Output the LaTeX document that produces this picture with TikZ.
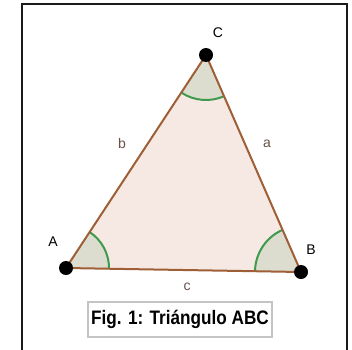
\documentclass[tikz,border=0pt]{standalone}
\usepackage{fontspec}
\setmainfont{Liberation Sans}
\usepackage{xcolor}
\usepackage{tikz}
\usetikzlibrary{angles, positioning, calc}
\definecolor{framedark}{HTML}{1A1A1A}
\definecolor{sidebrown}{HTML}{9E5F36}
\definecolor{trifill}{HTML}{F6E8E2}
\definecolor{anglegreen}{HTML}{3E9A4E}
\definecolor{anglefill}{HTML}{DCDDCF}
\definecolor{sidelabel}{HTML}{6A5048}
\definecolor{capborder}{HTML}{C4C4C4}
\tikzset{
  vertex/.style={circle, fill=black, inner sep=0pt, minimum size=14pt},
  ptlbl/.style={font=\fontsize{14}{16}\selectfont, text=black, inner sep=0pt},
  sidelbl/.style={font=\fontsize{14}{16}\selectfont, text=sidelabel, inner sep=0pt},
  side/.style={draw=sidebrown, line width=2pt},
  ang/.style={draw=anglegreen, fill=anglefill, line width=2pt, angle radius=#1},
  ang/.default=44pt,
}
\begin{document}
\begin{tikzpicture}[x=1pt, y=1pt,
  caption/.style={draw=capborder, line width=2pt, fill=white, minimum width=184pt, minimum height=35pt, inner sep=0pt,
                  font=\fontsize{19.5}{22}\selectfont\bfseries}]
  \useasboundingbox (0,0) rectangle (352,349);
  % frame
  \draw[framedark, line width=2pt] (21.5,-2) |- (347,344.5) -- (347,-2);
  % vertices
  \coordinate (A) at (66,81);
  \coordinate (B) at (301,77);
  \coordinate (C) at (206,294);
  \fill[trifill] (A) -- (B) -- (C) -- cycle;
  \pic[ang=43pt] {angle = B--A--C};
  \pic[ang=46pt] {angle = C--B--A};
  \pic[ang=45pt] {angle = A--C--B};
  \draw[side] (A) -- (B) -- (C) -- cycle;
  \node[vertex] (pA) at (A) {};
  \node[vertex] (pB) at (B) {};
  \node[vertex] (pC) at (C) {};
  % labels
  \node[ptlbl] (lA) at (53,107) {A};
  \node[ptlbl] (lB) at (311,99) {B};
  \node[ptlbl] (lC) at (218,316) {C};
  \node[sidelbl] (la) at (267,205) {a};
  \node[sidelbl] (lb) at (122,206) {b};
  \node[sidelbl] (lc) at (187,62) {c};
  % caption
  \node[caption] (cap) at (180,29.5) {\scalebox{0.88}[1]{Fig. 1: Triángulo ABC}};
\end{tikzpicture}
\end{document}
